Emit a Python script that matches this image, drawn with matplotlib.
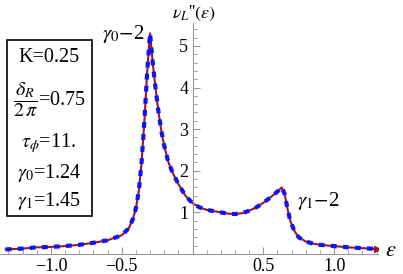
import matplotlib
matplotlib.use("Agg")
import matplotlib.pyplot as plt
from matplotlib.ticker import MultipleLocator, FixedLocator

plt.rcParams['font.family'] = 'serif'
plt.rcParams['font.serif'] = ['Liberation Serif', 'DejaVu Serif']
plt.rcParams['mathtext.fontset'] = 'stix'

# curve (both series overlap)
eps = [-1.32, -1.2, -1.1, -1.0, -0.9, -0.8, -0.7, -0.6, -0.5, -0.45,
       -0.42, -0.40, -0.38, -0.36, -0.34, -0.32, -0.30, -0.28, -0.26, -0.24,
       -0.22, -0.20, -0.17, -0.14, -0.10, -0.05, 0.0, 0.05, 0.1, 0.15,
       0.2, 0.25, 0.3, 0.35, 0.4, 0.45, 0.5, 0.55, 0.6, 0.63,
       0.65, 0.67, 0.69, 0.72, 0.75, 0.8, 0.85, 0.9, 1.0, 1.1,
       1.2, 1.3]
nu_exact = [0.11, 0.13, 0.16, 0.17, 0.19, 0.22, 0.27, 0.33, 0.45, 0.62,
            0.85, 1.1, 1.5, 2.2, 3.2, 4.4, 5.3, 4.55, 3.95, 3.4,
            2.95, 2.6, 2.2, 1.95, 1.68, 1.4, 1.22, 1.12, 1.06, 1.03,
            1.0, 0.97, 0.96, 0.98, 1.04, 1.12, 1.23, 1.36, 1.5, 1.6,
            1.45, 1.1, 0.8, 0.55, 0.4, 0.3, 0.25, 0.22, 0.19, 0.16,
            0.14, 0.12]
nu_approx = list(nu_exact)

params = [r'K=0.25', r'$\dfrac{\delta_R}{2\,\pi}$=0.75', r'$\tau_\phi$=11.',
          r'$\gamma_0$=1.24', r'$\gamma_1$=1.45']

fig = plt.figure(figsize=(4.03, 2.74), dpi=100)
ax = fig.add_axes([0.0, 20 / 274, 378 / 403, 231 / 274])

ax.plot(eps, nu_exact, color='#a3141c', lw=1.5, zorder=2)
ax.plot(eps[-1:], nu_exact[-1:], marker='>', ms=4, color='#a3141c', zorder=2)
ax.plot(eps, nu_approx, color='#0a14ff', lw=3.0, dashes=(1.4, 1.5), zorder=3)

ax.set_xlim(-1.36, 1.31)
ax.set_ylim(0, 5.55)

for s in ['top', 'right']:
    ax.spines[s].set_visible(False)
ax.spines['left'].set_position(('data', 0))
ax.spines['bottom'].set_position(('data', 0))
for s in ['left', 'bottom']:
    ax.spines[s].set_color('#999999')
    ax.spines[s].set_linewidth(0.8)

ax.xaxis.set_major_locator(FixedLocator([-1.0, -0.5, 0.5, 1.0]))
ax.xaxis.set_minor_locator(MultipleLocator(0.1))
ax.yaxis.set_major_locator(FixedLocator([1, 2, 3, 4, 5]))
ax.yaxis.set_minor_locator(MultipleLocator(0.2))
ax.xaxis.set_major_formatter(plt.FuncFormatter(lambda v, p: f'{v:.1f}'.replace('-', '\u2212')))
ax.yaxis.set_major_formatter(plt.FuncFormatter(lambda v, p: f'{v:.0f}'))
ax.tick_params(which='both', direction='in', color='#999999', labelsize=13)
ax.tick_params(which='major', length=5, width=0.8)
ax.tick_params(which='minor', length=3, width=0.6)
ax.tick_params(axis='x', pad=3)
ax.tick_params(axis='y', pad=3)

fig.text(391 / 403, 1 - 251 / 274, r'$\epsilon$', fontsize=16, ha='center', va='center')
fig.text(194 / 403, 1 - 13 / 274, r"$\nu_L$''$(\epsilon)$", fontsize=13, ha='center', va='center')

ax.annotate(r'$\gamma_0$$-$2', xy=(123 / 403, 1 - 34 / 274), xycoords='figure fraction',
            fontsize=15, ha='center', va='center')
ax.annotate(r'$\gamma_1$$-$2', xy=(318 / 403, 1 - 201 / 274), xycoords='figure fraction',
            fontsize=15, ha='center', va='center')

# parameter box
box = plt.Rectangle((7 / 403, 1 - 216 / 274), 85 / 403, 176 / 274, transform=fig.transFigure,
                    fill=True, facecolor='white', edgecolor='black', lw=1.2, zorder=5)
fig.patches.append(box)
ys = [58, 100, 143, 173, 201]
for t, y in zip(params, ys):
    fig.text(49 / 403, 1 - y / 274, t, fontsize=14.5, ha='center', va='center', zorder=6)

fig.savefig('out.png', dpi=100)
